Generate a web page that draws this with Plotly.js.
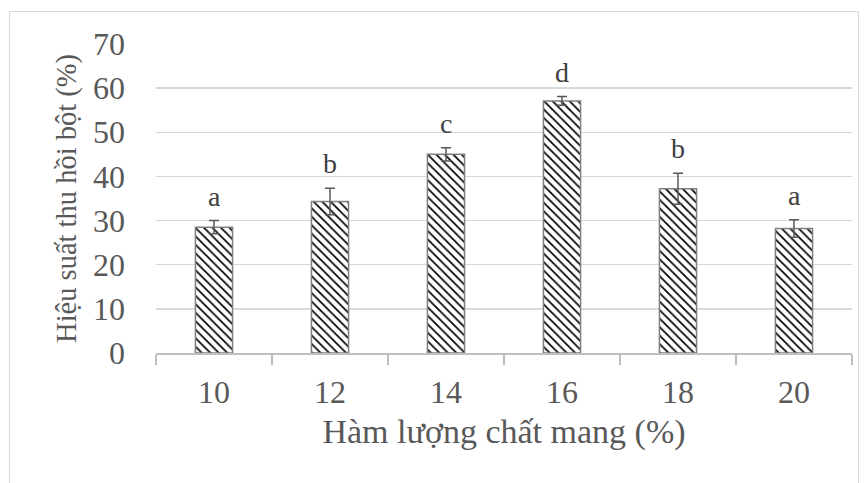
<!DOCTYPE html>
<html><head><meta charset="utf-8">
<script src="https://cdn.plot.ly/plotly-3.0.1.min.js"></script>
<style>html,body{margin:0;padding:0;background:#fff;}#frame{position:absolute;left:9px;top:11px;width:848px;height:480px;border:1.5px solid #d9d9d9;pointer-events:none;}</style>
</head><body>
<div id="chart" style="width:868px;height:483px;"></div>
<div id="frame"></div>
<script>
const categories = ["10", "12", "14", "16", "18", "20"];
const values = [28.5, 34.3, 45.0, 57.1, 37.2, 28.2];
const errors = [1.5, 3.0, 1.5, 1.0, 3.5, 2.0];
const letters = ["a", "b", "c", "d", "b", "a"];

const fontFam = "Liberation Serif, Times New Roman, serif";
const trace = {
  type: "bar",
  x: categories,
  y: values,
  width: 0.32,
  marker: {
    color: "#ffffff",
    line: {color: "#808080", width: 1.5},
    pattern: {shape: "\\", fgcolor: "#000000", bgcolor: "#ffffff", size: 6, solidity: 0.28}
  },
  error_y: {type: "data", array: errors, visible: true, color: "#595959", thickness: 1.5, width: 5},
  hoverinfo: "none"
};

const annotations = categories.map((c, i) => ({
  x: i, y: values[i] + errors[i], xref: "x", yref: "y",
  text: letters[i], showarrow: false, yanchor: "bottom", yshift: 7,
  font: {family: fontFam, size: 28, color: "#404040"}
}));

const layout = {
  width: 868, height: 483,
  margin: {l: 156, r: 16, t: 44, b: 130},
  paper_bgcolor: "#ffffff", plot_bgcolor: "#ffffff",
  showlegend: false,
  xaxis: {
    type: "category",
    range: [-0.5, 5.5],
    showline: true, linecolor: "#bfbfbf", linewidth: 1.5,
    ticks: "outside", tickson: "boundaries", ticklen: 10, tickcolor: "#bfbfbf", tickwidth: 1.5,
    ticklabelstandoff: 10,
    tickfont: {family: fontFam, size: 32, color: "#595959"},
    title: {text: "Hàm lượng chất mang (%)", font: {family: fontFam, size: 34, color: "#595959"}, standoff: 10},
    showgrid: false, zeroline: false
  },
  yaxis: {
    range: [0, 70], dtick: 10, tick0: 0,
    showgrid: true, gridcolor: "#d9d9d9", gridwidth: 1.5,
    zeroline: false, showline: false, ticks: "",
    ticklabelstandoff: 30,
    tickfont: {family: fontFam, size: 32, color: "#595959"},
    title: {text: "Hiệu suất thu hồi bột (%)", font: {family: fontFam, size: 28.5, color: "#595959"}, standoff: 8}
  },
  annotations: annotations
};

Plotly.newPlot("chart", [trace], layout, {displayModeBar: false, staticPlot: true});
</script>
</body></html>
